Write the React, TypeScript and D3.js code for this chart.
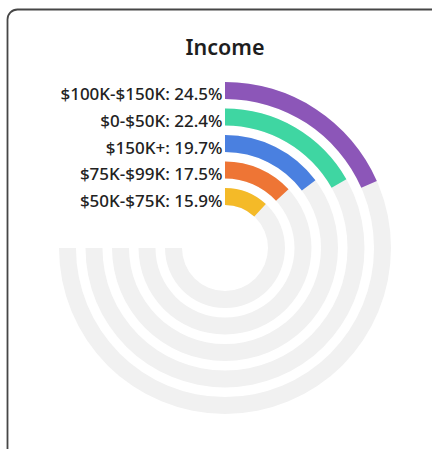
import React, { useEffect, useRef } from 'react';
import * as d3 from 'd3';

// top to bottom as drawn (outer ring first)
const categories = ['$100K-$150K', '$0-$50K', '$150K+', '$75K-$99K', '$50K-$75K'];
const shares = [24.5, 22.4, 19.7, 17.5, 15.9];
const colors = ['#8c56b8', '#3fd6a2', '#4a80e0', '#ee7535', '#f4ba28'];

const W = 432;
const H = 449;

const App: React.FC = () => {
  const svgRef = useRef<SVGSVGElement>(null);

  useEffect(() => {
    if (!svgRef.current) return;
    const svg = d3.select(svgRef.current);
    svg.selectAll('*').remove();

    const cx = 225;
    const cy = 248;

    // card frame (right and bottom run past the window)
    svg.append('rect')
      .attr('x', 7.5)
      .attr('y', 9.5)
      .attr('width', 450)
      .attr('height', 450)
      .attr('rx', 10)
      .attr('fill', '#fff')
      .attr('stroke', '#474747')
      .attr('stroke-width', 1.8);

    svg.append('text')
      .attr('x', cx)
      .attr('y', 55)
      .attr('text-anchor', 'middle')
      .attr('font-family', 'Noto Sans, sans-serif')
      .attr('font-weight', 600)
      .attr('font-size', 21.5)
      .attr('fill', '#1e1e1e')
      .text('Income');

    // inner ring = last category
    const radius = d3.scaleBand<string>()
      .domain([...categories].reverse())
      .range([43, 166])
      .paddingInner(0.36);

    const angle = d3.scaleLinear().domain([0, 100]).range([0, Math.PI * 1.5]);

    const g = svg.append('g').attr('transform', `translate(${cx},${cy})`);

    const arc = d3.arc<{ r0: number; r1: number; a: number }>()
      .innerRadius(d => d.r0)
      .outerRadius(d => d.r1)
      .startAngle(0)
      .endAngle(d => d.a);

    categories.forEach((c, i) => {
      const r0 = radius(c)!;
      const r1 = r0 + radius.bandwidth();
      g.append('path')
        .attr('d', arc({ r0, r1, a: angle(100) }))
        .attr('fill', '#f1f1f1');
      g.append('path')
        .attr('d', arc({ r0, r1, a: angle(shares[i]) }))
        .attr('fill', colors[i]);
      g.append('text')
        .attr('x', -2.5)
        .attr('y', -(r0 + r1) / 2 + 10)
        .attr('text-anchor', 'end')
        .attr('font-family', 'Noto Sans, sans-serif')
        .attr('font-weight', 500)
        .attr('font-size', 17)
        .attr('fill', '#222')
        .text(`${c}: ${shares[i]}%`);
    });
  }, []);

  return (
    <svg
      ref={svgRef}
      width={W}
      height={H}
      style={{ position: 'absolute', left: 0, top: 0, display: 'block' }}
    />
  );
};

export default App;
